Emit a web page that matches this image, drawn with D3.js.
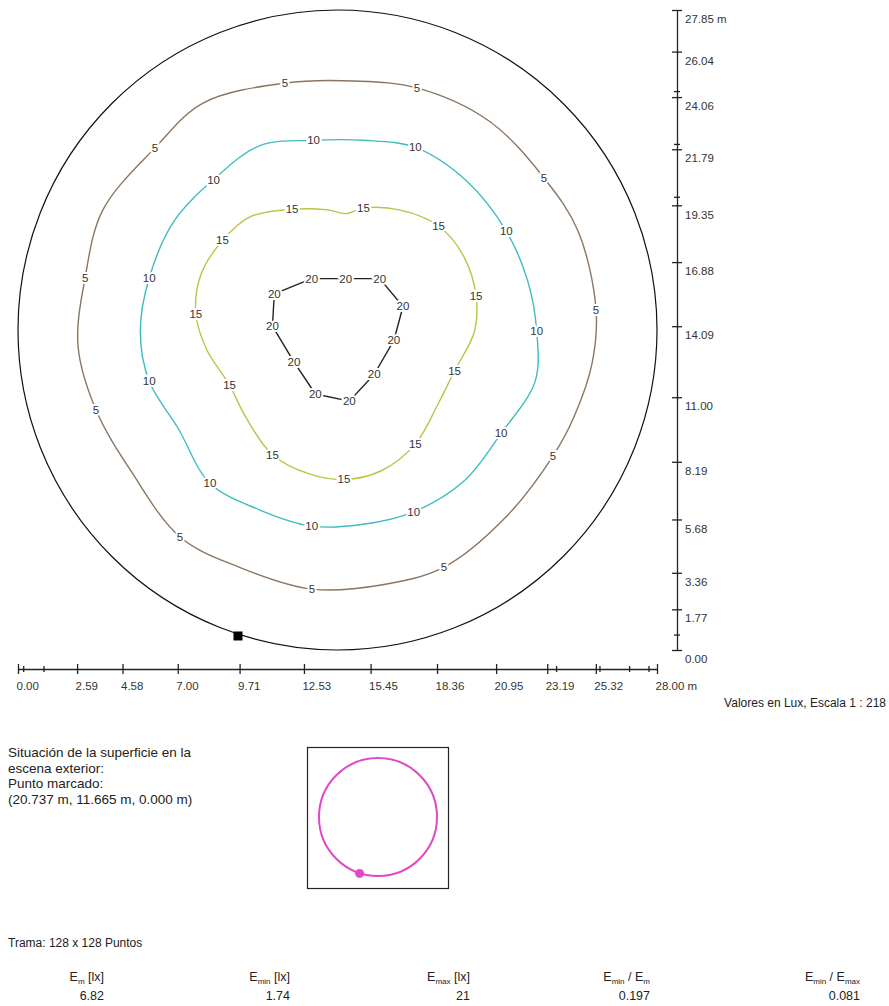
<!DOCTYPE html>
<html>
<head>
<meta charset="utf-8">
<script src="https://cdn.jsdelivr.net/npm/d3@7"></script>
<style>
  body { margin: 0; background: #fff; }
  svg { display: block; font-family: "Liberation Sans", Arial, sans-serif; }
</style>
</head>
<body>
<div id="chart"></div>
<script>
// axis ticks (m)
const xTicks = [0, 2.59, 4.58, 7.00, 9.71, 12.53, 15.45, 18.36, 20.95, 23.19, 25.32, 28.00];
const yTicks = [0, 1.77, 3.36, 5.68, 8.19, 11.00, 14.09, 16.88, 19.35, 21.79, 24.06, 26.04, 27.85];
const xMinor = [0.25, 1.14, 23.6, 25.5, 26.8, 27.65];
const yMinor = [0.65, 19.7, 22.0, 24.3];

// contour lines [x m, y m], label vertex indices
const iso5 = [[8.11,23.80],[11.70,24.67],[14.68,24.76],[17.48,24.46],[20.64,23.02],[23.05,20.54],[24.54,18.23],[25.33,14.80],[25.15,12.45],[24.36,10.14],[23.44,8.44],[21.38,5.79],[18.67,3.61],[15.91,2.83],[12.88,2.65],[9.68,3.61],[7.10,4.92],[4.95,7.79],[3.42,10.44],[2.63,13.23],[2.94,16.19],[3.72,19.15],[6.00,21.85]];
const iso5Labels = [1,3,5,7,10,12,14,16,18,20,22];
const iso10 = [[8.57,20.47],[10.60,21.95],[12.95,22.18],[15.14,22.18],[17.41,21.87],[19.68,20.39],[21.40,18.22],[22.34,16.04],[22.73,13.86],[22.66,11.69],[21.17,9.43],[19.53,7.34],[17.34,6.01],[15.14,5.47],[12.87,5.39],[10.60,6.09],[8.41,7.26],[7.01,9.66],[5.75,11.69],[5.36,13.86],[5.75,16.19],[6.85,18.68]];
const iso10Labels = [0,2,4,6,8,10,12,14,16,18,20];
const iso15 = [[8.96,17.82],[10.14,18.84],[12.01,19.18],[13.58,19.15],[14.36,18.99],[15.14,19.23],[16.71,19.15],[18.43,18.45],[19.53,17.13],[20.07,15.42],[20.00,13.86],[19.13,12.15],[18.43,10.75],[17.41,8.97],[15.92,7.80],[14.28,7.42],[12.80,7.65],[11.15,8.50],[9.98,10.13],[9.27,11.53],[8.26,13.09],[7.79,14.64],[8.02,16.35]];
const iso15Labels = [0,2,5,7,9,11,13,15,17,19,21];
const iso20 = [[12.87,16.16],[14.36,16.16],[15.85,16.16],[16.87,14.95],[16.47,13.47],[15.61,12.00],[14.52,10.83],[13.03,11.14],[12.09,12.54],[11.15,14.09],[11.23,15.50]];
const iso20Labels = [0,1,2,3,4,5,6,7,8,9,10];

// surface outline and marked point (m)
const area = { cx: 14, cy: 13.925, rx: 14, ry: 13.925 };
const marked = [9.64, 0.61];

const statsNames = [["E","m"," [lx]"],["E","min"," [lx]"],["E","max"," [lx]"],["E","min"," / E","m"],["E","min"," / E","max"]];
const statsValues = ["6.82", "1.74", "21", "0.197", "0.081"];

const width = 889, height = 1006;
const svg = d3.select("#chart").append("svg")
    .attr("width", width).attr("height", height);

const x = d3.scaleLinear().domain([0, 28]).range([18, 657]);
const y = d3.scaleLinear().domain([0, 27.85]).range([650, 10]);

// outer surface
svg.append("ellipse")
    .attr("cx", x(area.cx)).attr("cy", y(area.cy))
    .attr("rx", x(area.rx) - x(0)).attr("ry", y(0) - y(area.ry))
    .attr("fill", "none").attr("stroke", "#111").attr("stroke-width", 1.2);

const smoothLine = d3.line().x(d => x(d[0])).y(d => y(d[1])).curve(d3.curveCatmullRomClosed.alpha(0.5));
const sharpLine = d3.line().x(d => x(d[0])).y(d => y(d[1])).curve(d3.curveLinearClosed);

const isolines = [
  { v: 5, pts: iso5, lab: iso5Labels, color: "#8a7660", gen: smoothLine },
  { v: 10, pts: iso10, lab: iso10Labels, color: "#3fbcc0", gen: smoothLine },
  { v: 15, pts: iso15, lab: iso15Labels, color: "#bcc446", gen: smoothLine },
  { v: 20, pts: iso20, lab: iso20Labels, color: "#222", gen: sharpLine }
];

isolines.forEach(c => {
  svg.append("path")
      .attr("d", c.gen(c.pts))
      .attr("fill", "none")
      .attr("stroke", c.color)
      .attr("stroke-width", 1.4)
      .attr("stroke-linejoin", "round");
});

isolines.forEach(c => {
  svg.append("g").selectAll("text")
    .data(c.lab.map(i => c.pts[i]))
    .join("text")
      .attr("x", d => x(d[0]))
      .attr("y", d => y(d[1]))
      .attr("text-anchor", "middle")
      .attr("dominant-baseline", "central")
      .attr("font-size", 11.5)
      .attr("fill", "#333")
      .attr("stroke", "#fff")
      .attr("stroke-width", 4)
      .attr("paint-order", "stroke")
      .text(c.v);
});

// marked point
svg.append("rect")
    .attr("x", x(marked[0]) - 4.5).attr("y", y(marked[1]) - 4.5)
    .attr("width", 9).attr("height", 9)
    .attr("fill", "#000");

// x axis
const fmt = d3.format(".2f");
const xAxis = svg.append("g")
    .attr("transform", "translate(0,669)")
    .call(d3.axisBottom(x).tickValues(xTicks).tickSizeOuter(0)
      .tickFormat((d, i) => fmt(d) + (i === xTicks.length - 1 ? " m" : "")));
xAxis.select(".domain").attr("stroke", "#222").attr("stroke-width", 1.3);
xAxis.selectAll(".tick line").attr("y1", -5).attr("y2", 5).attr("stroke", "#222").attr("stroke-width", 1.3);
xAxis.selectAll(".tick text")
    .attr("y", 13).attr("x", -2).attr("dy", "0.71em")
    .attr("text-anchor", "start")
    .attr("font-family", "Liberation Sans, Arial, sans-serif")
    .attr("font-size", 11.5).attr("fill", "#333");
xAxis.selectAll(".minor").data(xMinor).join("line")
    .attr("x1", d => x(d)).attr("x2", d => x(d))
    .attr("y1", -3).attr("y2", 3)
    .attr("stroke", "#222").attr("stroke-width", 1.3);

// y axis
const yAxis = svg.append("g")
    .attr("transform", "translate(677,0)")
    .call(d3.axisRight(y).tickValues(yTicks).tickSizeOuter(0)
      .tickFormat((d, i) => fmt(d) + (i === yTicks.length - 1 ? " m" : "")));
yAxis.select(".domain").attr("stroke", "#222").attr("stroke-width", 1.3);
yAxis.selectAll(".tick line").attr("x1", -5).attr("x2", 5).attr("stroke", "#222").attr("stroke-width", 1.3);
yAxis.selectAll(".tick text")
    .attr("x", 8).attr("y", 9).attr("dy", "0.32em")
    .attr("font-family", "Liberation Sans, Arial, sans-serif")
    .attr("font-size", 11.5).attr("fill", "#333");
yAxis.selectAll(".minor").data(yMinor).join("line")
    .attr("y1", d => y(d)).attr("y2", d => y(d))
    .attr("x1", -3).attr("x2", 3)
    .attr("stroke", "#222").attr("stroke-width", 1.3);

// scale note
svg.append("text")
    .attr("x", 886).attr("y", 707)
    .attr("text-anchor", "end")
    .attr("font-size", 12).attr("fill", "#222")
    .text("Valores en Lux, Escala 1 : 218");

// situation text
const sitLines = ["Situación de la superficie en la", "escena exterior:", "Punto marcado:", "(20.737 m, 11.665 m, 0.000 m)"];
svg.append("g").selectAll("text")
  .data(sitLines)
  .join("text")
    .attr("x", 8).attr("y", (d, i) => 757 + i * 15.5)
    .attr("font-size", 13.5).attr("fill", "#222")
    .text(d => d);

// inset map
const inset = svg.append("g");
inset.append("rect")
    .attr("x", 307.5).attr("y", 747.5).attr("width", 141).attr("height", 141)
    .attr("fill", "none").attr("stroke", "#222").attr("stroke-width", 1.2);
const ix = d3.scaleLinear().domain([0, 28]).range([319, 437]);
const iy = d3.scaleLinear().domain([0, 27.85]).range([876, 758]);
inset.append("ellipse")
    .attr("cx", ix(area.cx)).attr("cy", iy(area.cy))
    .attr("rx", ix(area.rx) - ix(0)).attr("ry", iy(0) - iy(area.ry))
    .attr("fill", "none").attr("stroke", "#e048c8").attr("stroke-width", 2);
inset.append("circle")
    .attr("cx", ix(marked[0])).attr("cy", iy(marked[1])).attr("r", 4.5)
    .attr("fill", "#e048c8");

// stats
svg.append("text")
    .attr("x", 8).attr("y", 947)
    .attr("font-size", 12).attr("fill", "#222")
    .text("Trama: 128 x 128 Puntos");

const colRight = [104, 290, 470, 650, 860];
const head = svg.append("g").selectAll("text")
  .data(statsNames)
  .join("text")
    .attr("x", (d, i) => colRight[i]).attr("y", 981)
    .attr("text-anchor", "end")
    .attr("font-size", 12.5).attr("fill", "#222");
head.each(function (d) {
  const t = d3.select(this);
  d.forEach((s, k) => {
    const span = t.append("tspan").text(s);
    if (k % 2 === 1) span.attr("font-size", 8).attr("dy", 3);
    else if (k > 0) span.attr("dy", -3);
  });
});

svg.append("g").selectAll("text")
  .data(statsValues)
  .join("text")
    .attr("x", (d, i) => colRight[i]).attr("y", 1000)
    .attr("text-anchor", "end")
    .attr("font-size", 12.5).attr("fill", "#222")
    .text(d => d);
</script>
</body>
</html>
